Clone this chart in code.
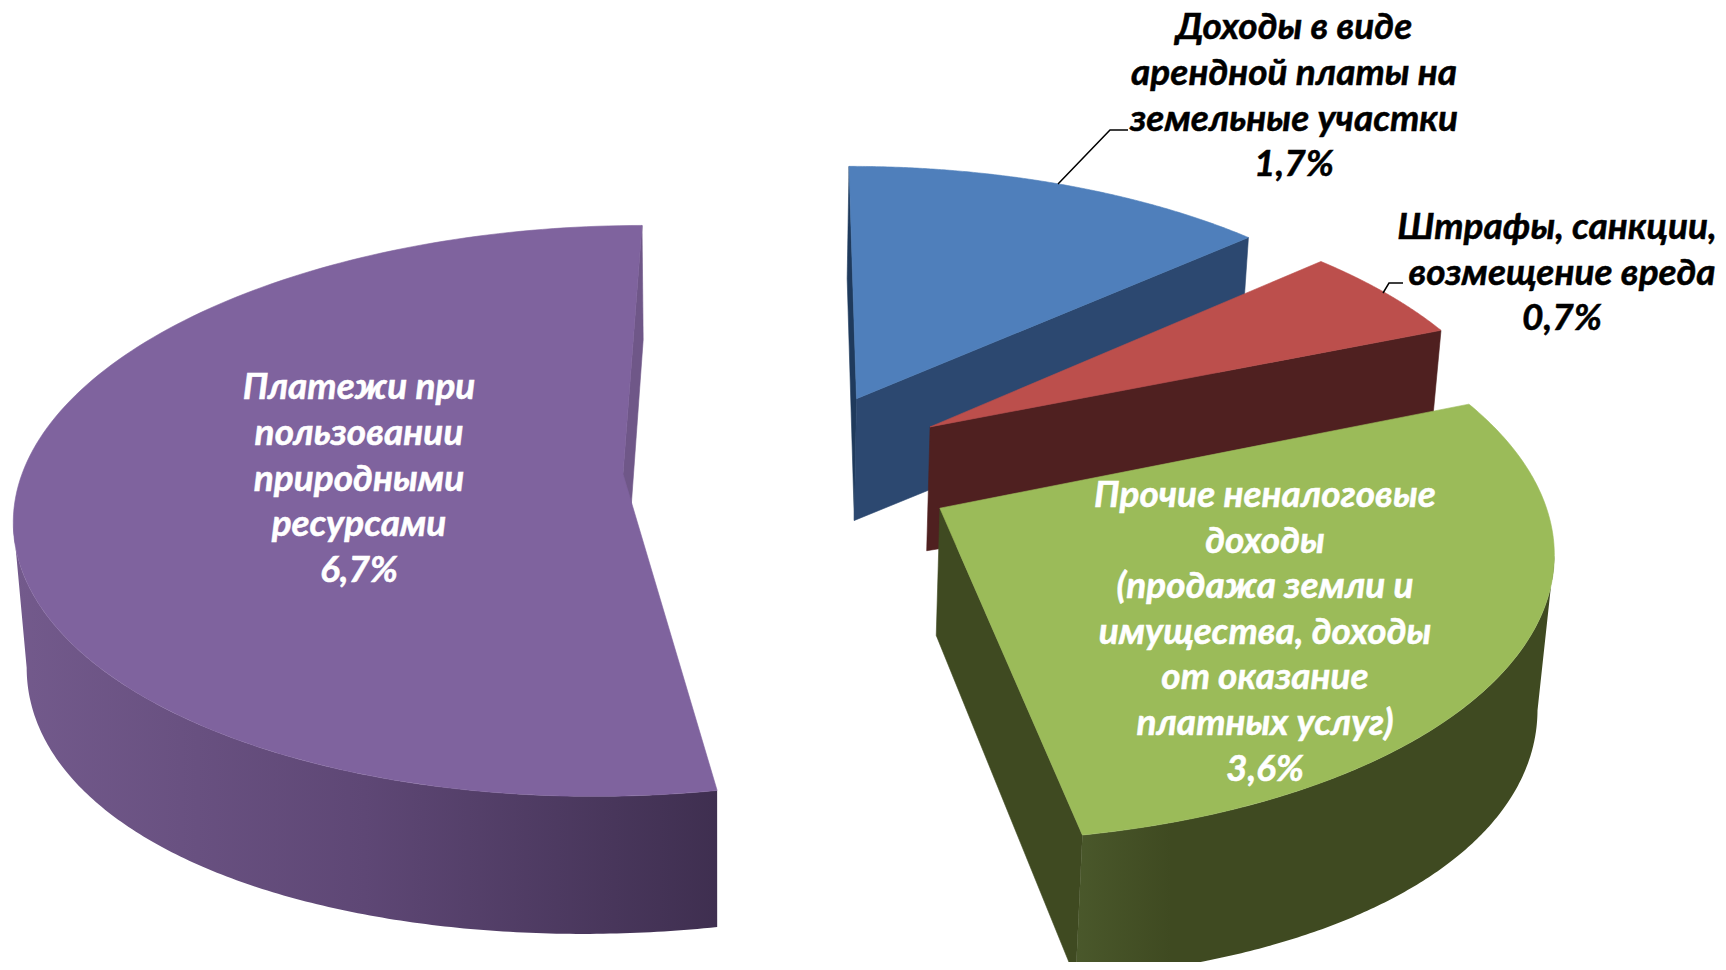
import numpy as np, pandas as pd, altair as alt

NAMES = ["Доходы в виде арендной платы на земельные участки", "Штрафы, санкции, возмещение вреда", "Прочие неналоговые доходы", "Платежи при пользовании природными ресурсами"]
VALUES = [1.7, 0.7, 3.6, 6.7]

edges = np.concatenate([[0], np.cumsum(VALUES)]) / sum(VALUES) * 2 * np.pi
B0, B1, R1, G1, P1 = edges

# perspective camera of the 3-D pie and the explosion offset of every slice
CAM = [601.46, 101.99, 0.052555, -219.43, 0.0025846, 0.12923]
ORIGIN = (623, 474)
EXPLODE = {"p": (0, 0), "b": (0.39369, 0.27628), "r": (0.51774, 0.16955), "g": (0.52501, -0.12225)}

def proj(X, Z):
    a, b, d, e, g, h = CAM
    w = g * X + h * Z + 1
    return (a * X + b * Z + ORIGIN[0]) / w, (d * X + e * Z + ORIGIN[1]) / w
def top(s, t):
    ex, ez = EXPLODE[s]
    return proj(ex + np.sin(t), ez + np.cos(t))
def apex(s):
    ex, ez = EXPLODE[s]
    return tuple(float(v) for v in proj(np.array(ex), np.array(ez)))
def drop(x, y):
    h = 105 + 0.04 * y + 4e-5 * (x - 720) ** 2
    return x + (720 - x) * 1.3e-4 * h, y + h

SX = alt.Scale(domain=[8, 1718], nice=False, zero=False)
SY = alt.Scale(domain=[962, 8], nice=False, zero=False)

def poly(xs, ys, fill):
    df = pd.DataFrame({"x": xs, "y": ys, "i": range(len(xs))})
    return alt.Chart(df).mark_line(fill=fill, stroke=fill if isinstance(fill, str) else None, strokeWidth=0.6, interpolate="linear-closed").encode(
        x=alt.X("x:Q", scale=SX, axis=None), y=alt.Y("y:Q", scale=SY, axis=None), order="i:Q")
def sector(s, t0, t1, fill):
    t = np.linspace(t0, t1, 160); u, v = top(s, t); a = apex(s)
    return poly([a[0], *u], [a[1], *v], fill)
def rim_wall(s, t0, t1, fill):
    # only the part of the rim between the silhouette point and the front edge faces the viewer
    t = np.linspace(t0, t1, 800); u, v = top(s, t)
    if s == "p":
        t = np.linspace(t0, t[np.argmin(u)], 160)
    else:
        t = np.linspace(t[np.argmax(u)], t1, 160)
    u, v = top(s, t); bu, bv = drop(u, v)
    return poly([*u, *bu[::-1]], [*v, *bv[::-1]], fill)
def side_wall(s, t, fill):
    u, v = top(s, np.array(t)); bu, bv = drop(u, v); a = apex(s); ba = drop(*a)
    return poly([a[0], float(u), float(bu), ba[0]], [a[1], float(v), float(bv), ba[1]], fill)
def grad(stops):
    return {"gradient": "linear", "x1": 0, "y1": 0, "x2": 1, "y2": 0, "stops": [{"offset": o, "color": c} for o, c in stops]}

layers = [
    side_wall("p", P1, "#6F5788"),
    rim_wall("p", G1, P1, grad([(0, "#735A8C"), (.5, "#5E4775"), (1, "#3F2F50")])),
    sector("p", G1, P1, "#7F639E"),
    side_wall("b", 0.0, "#1F3A5C"),
    side_wall("b", B1, "#2C4870"),
    sector("b", 0, B1, "#4F7FBB"),
    side_wall("r", R1, "#4F2020"),
    sector("r", B1, R1, "#BC4F4C"),
    side_wall("g", G1, "#3F4A21"),
    rim_wall("g", R1, G1, grad([(0, "#4A582B"), (.2, "#3F4A21"), (1, "#3F4A21")])),
    sector("g", R1, G1, "#9BBB59"),
]

def leader(xs, ys):
    df = pd.DataFrame({"x": xs, "y": ys, "i": range(len(xs))})
    return alt.Chart(df).mark_line(color="black", strokeWidth=1.5).encode(
        x=alt.X("x:Q", scale=SX, axis=None), y=alt.Y("y:Q", scale=SY, axis=None), order="i:Q")
layers += [leader([1058, 1110, 1128], [184, 130, 130]), leader([1383, 1389, 1403], [293, 283, 283])]

LABELS = [
    (["Доходы в виде", "арендной платы на", "земельные участки", "1,7%"], [1294] * 4, [27.5, 74, 119.7, 165.3], "black"),
    (["Штрафы, санкции,", "возмещение вреда", "0,7%"], [1557, 1562, 1562], [228, 273.6, 319.2], "black"),
    (["Прочие неналоговые", "доходы", "(продажа земли и", "имущества, доходы", "от оказание", "платных услуг)", "3,6%"], [1265] * 7, [496, 541.6, 587.2, 632.8, 678.4, 724, 769.6], "white"),
    (["Платежи при", "пользовании", "природными", "ресурсами", "6,7%"], [359] * 5, [388, 434, 479.7, 525.3, 570.9], "white"),
]
FONT = "Lato"
for lines, xs, ys, col in LABELS:
    df = pd.DataFrame({"t": lines, "x": xs, "y": ys})
    layers.append(alt.Chart(df).mark_text(font=FONT, fontSize=37, fontWeight="bold", fontStyle="italic", color=col, stroke=col, strokeWidth=0.5, align="center", baseline="middle").encode(
        x=alt.X("x:Q", scale=SX, axis=None), y=alt.Y("y:Q", scale=SY, axis=None), text="t:N"))

chart = alt.layer(*layers).properties(width=1710, height=954, padding=0, autosize=alt.AutoSizeParams(type="none")).configure_view(stroke=None)
chart.save("out.html", embed_options={"renderer": "svg", "actions": False})
